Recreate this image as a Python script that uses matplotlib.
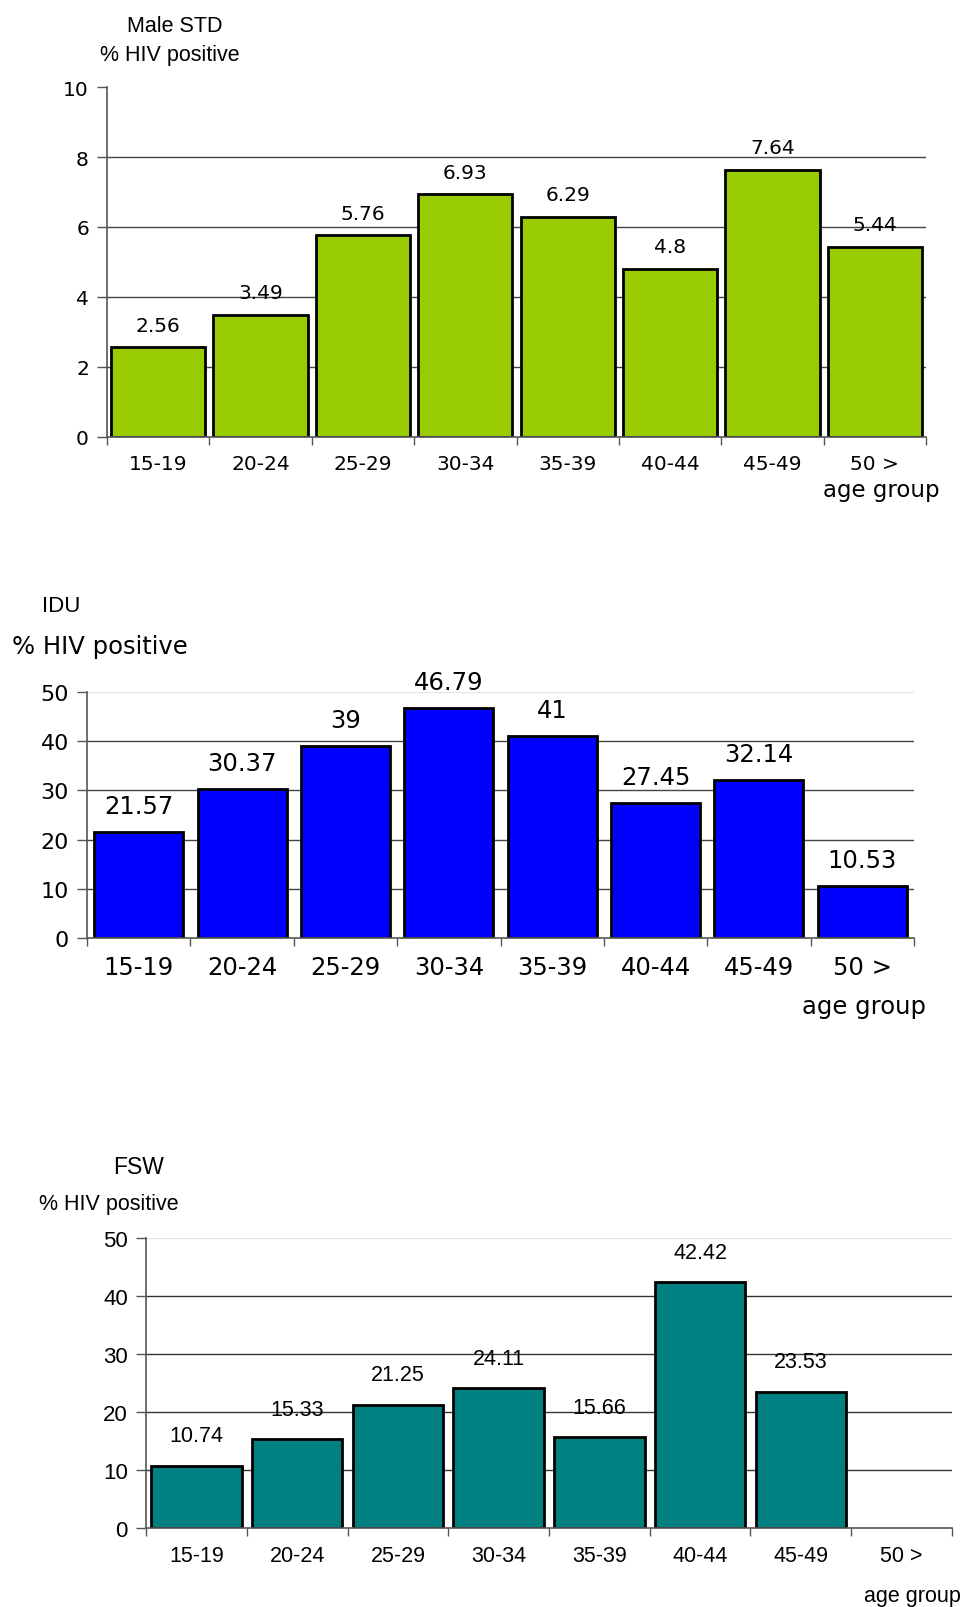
import matplotlib
matplotlib.use("Agg")
import matplotlib.pyplot as plt
import numpy as np

categories = ["15-19", "20-24", "25-29", "30-34", "35-39", "40-44", "45-49", "50 >"]
male_std = [2.56, 3.49, 5.76, 6.93, 6.29, 4.8, 7.64, 5.44]
idu = [21.57, 30.37, 39, 46.79, 41, 27.45, 32.14, 10.53]
fsw = [10.74, 15.33, 21.25, 24.11, 15.66, 42.42, 23.53, None]

male_labels = ["2.56", "3.49", "5.76", "6.93", "6.29", "4.8", "7.64", "5.44"]
idu_labels = ["21.57", "30.37", "39", "46.79", "41", "27.45", "32.14", "10.53"]
fsw_labels = ["10.74", "15.33", "21.25", "24.11", "15.66", "42.42", "23.53", ""]

W, H = 966, 1608
fig = plt.figure(figsize=(W / 100, H / 100), dpi=100)

def px_axes(l, r, t, b):
    return fig.add_axes([l / W, 1 - b / H, (r - l) / W, (b - t) / H])

def ftext(x, y, s, **kw):
    fig.text(x / W, 1 - y / H, s, va="center", **kw)

def panel(ax, vals, labels, ymax, ystep, color, width, font, tfs, yfs, vfs, voff,
          grid_color, top_grid):
    x = np.arange(len(categories))
    xs = [i for i, v in zip(x, vals) if v is not None]
    vs = [v for v in vals if v is not None]
    ls = [l for l, v in zip(labels, vals) if v is not None]
    ax.set_ylim(0, ymax)
    ax.set_xlim(-0.5, len(categories) - 0.5)
    yt = np.arange(0, ymax + 0.001, ystep)
    ax.set_yticks(yt)
    ax.set_yticklabels([f"{int(v)}" for v in yt], fontsize=yfs, family=font)
    for v in yt[1:-1]:
        ax.axhline(v, color=grid_color, lw=1.0, zorder=0)
    if top_grid:
        ax.axhline(ymax, color="#e6e6e6", lw=1.0, zorder=0)
    ax.bar(xs, vs, width=width, color=color, edgecolor="black", linewidth=2.0, zorder=2)
    for xi, v, l in zip(xs, vs, ls):
        ax.annotate(l, (xi, v), xytext=(0, voff), textcoords="offset points",
                    ha="center", va="bottom", fontsize=vfs, family=font, zorder=3)
    ax.set_xticks(x)
    ax.set_xticklabels(categories, fontsize=tfs, family=font)
    ax.set_xticks(np.arange(-0.5, len(categories), 1.0), minor=True)
    ax.tick_params(axis="x", which="major", length=0, pad=12)
    ax.tick_params(axis="x", which="minor", length=6, color="#555555", width=1)
    ax.tick_params(axis="y", length=7, color="#555555", width=1, pad=6)
    for s in ["top", "right"]:
        ax.spines[s].set_visible(False)
    for s in ["left", "bottom"]:
        ax.spines[s].set_color("#555555")
        ax.spines[s].set_linewidth(1.2)
    ax.set_facecolor("none")

# Panel 1: Male STD
ax1 = px_axes(107, 926, 88, 438)
panel(ax1, male_std, male_labels, 10, 2, "#99CC00", 0.92, "DejaVu Sans",
      14.5, 14.5, 14.5, 9, "#444444", False)
ftext(127, 26, "Male STD", family="Liberation Sans", fontsize=15.5)
ftext(100, 56, "% HIV positive", family="Liberation Sans", fontsize=15.5)
ftext(823, 491, "age group", family="DejaVu Sans", fontsize=16.5)

# Panel 2: IDU
ax2 = px_axes(87, 914, 693, 939)
panel(ax2, idu, idu_labels, 50, 10, "#0000FF", 0.86, "DejaVu Sans",
      17.5, 16, 17.5, 10, "#444444", True)
ftext(42, 607, "IDU", family="Liberation Sans", fontsize=16)
ftext(12, 647, "% HIV positive", family="DejaVu Sans", fontsize=17.5)
ftext(802, 1007, "age group", family="DejaVu Sans", fontsize=17.5)

# Panel 3: FSW
ax3 = px_axes(146, 952, 1239, 1529)
panel(ax3, fsw, fsw_labels, 50, 10, "#008080", 0.9, "Liberation Sans",
      15.5, 16, 15.5, 14, "#333333", True)
ftext(113, 1168, "FSW", family="Liberation Sans", fontsize=16.5)
ftext(39, 1205, "% HIV positive", family="Liberation Sans", fontsize=15.5)
ftext(864, 1597, "age group", family="Liberation Sans", fontsize=15.5)

fig.savefig("out.png", dpi=100, facecolor="white")
